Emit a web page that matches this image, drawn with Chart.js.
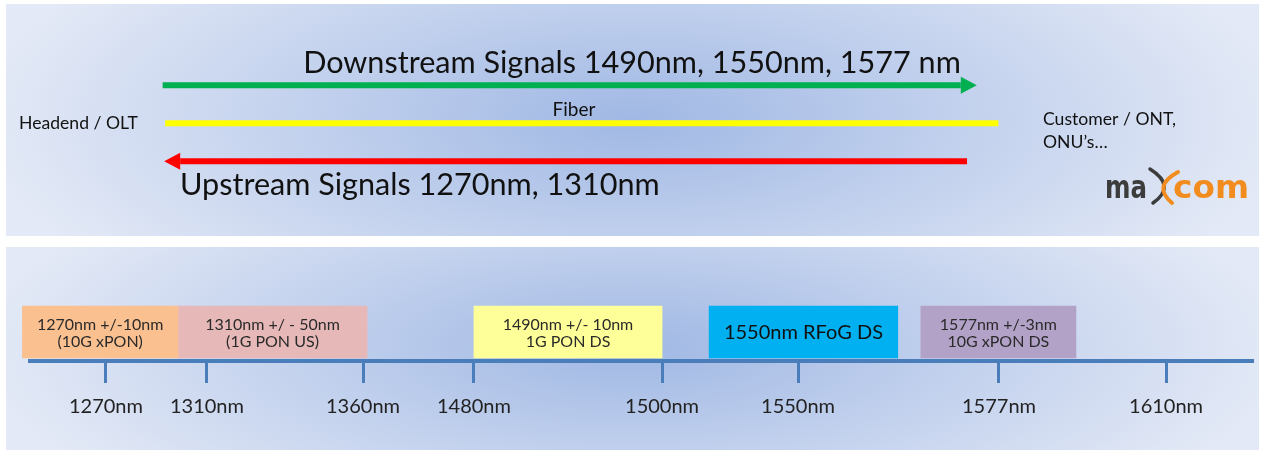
<!DOCTYPE html>
<html>
<head>
<meta charset="utf-8">
<title>PON wavelengths</title>
<script src="https://cdn.jsdelivr.net/npm/chart.js@4.4.1/dist/chart.umd.min.js"></script>
<style>
    body { margin: 0; background: #fff; width: 1261px; height: 451px; overflow: hidden; }
    .panel { position: absolute; left: 6px; width: 1253px; }
    #fiberPanel { top: 4px; height: 232px; }
    #bandPanel { top: 247px; height: 203px; }
</style>
</head>
<body>
<div class="panel" id="fiberPanel"><canvas id="fiberChart"></canvas></div>
<div class="panel" id="bandPanel"><canvas id="bandChart"></canvas></div>
<script>
// --- data ---
// fiber run, in % of the drawing width (schematic)
const downstreamSpan = [12.5, 76.2];
const fiberSpan = [12.7, 79.2];
const upstreamSpan = [76.7, 13.9];

// wavelength axis
const axisWavelengths = [1270, 1310, 1360, 1480, 1500, 1550, 1577, 1610];
const axisMin = 1240;
const axisMax = 1627;

// bands on the axis
const bandNames = ['10G xPON US', '1G PON US', '1G PON DS', 'RFoG DS', '10G xPON DS'];
const bandStarts = [1237, 1298.5, 1480, 1517.3, 1566.5];
const bandEnds = [1298.5, 1364.4, 1500, 1563.4, 1592.2];
const bandLines = [
    ['1270nm +/-10nm', '(10G xPON)'],
    ['1310nm +/ - 50nm', '(1G PON US)'],
    ['1490nm +/- 10nm', '1G PON DS'],
    ['1550nm RFoG DS'],
    ['1577nm +/-3nm', '10G xPON DS']
];
const bandColors = ['#fac090', '#e6b9b8', '#ffff99', '#00b0f0', '#b3a2c7'];

// the axis is not to scale: where each knot sits along it (0..1)
const knotWavelengths = [axisMin, ...axisWavelengths, axisMax];
const knotFractions = [0, 0.0621, 0.1447, 0.2723, 0.3630, 0.5168, 0.6280, 0.7923, 0.9289, 1];

const FONT = 'Lato, Carlito, "Open Sans", sans-serif';
const AXIS_BLUE = '#4a7ebb';

const toFraction = (v) => {
    const w = knotWavelengths, f = knotFractions;
    let i = 0;
    while (i < w.length - 2 && v > w[i + 1]) i++;
    return f[i] + (v - w[i]) * (f[i + 1] - f[i]) / (w[i + 1] - w[i]);
};
const fromFraction = (d) => {
    const w = knotWavelengths, f = knotFractions;
    let i = 0;
    while (i < f.length - 2 && d > f[i + 1]) i++;
    return w[i] + (d - f[i]) * (w[i + 1] - w[i]) / (f[i + 1] - f[i]);
};

class SchematicScale extends Chart.LinearScale {
    getPixelForValue(value) {
        return this.getPixelForDecimal(toFraction(value));
    }
    getValueForPixel(pixel) {
        return fromFraction(this.getDecimalForPixel(pixel));
    }
}
SchematicScale.id = 'schematic';
SchematicScale.defaults = Chart.LinearScale.defaults;
Chart.register(SchematicScale);

// soft blue panel fill, darker in the middle
const panelBackground = {
    id: 'panelBackground',
    beforeDraw(chart) {
        const { ctx, width, height } = chart;
        const s = 2 * height / width;
        ctx.save();
        ctx.translate(width / 2, height / 2);
        ctx.scale(1, s);
        const g = ctx.createRadialGradient(0, 0, 0, 0, 0, width * 0.52);
        g.addColorStop(0, '#a0b8e4');
        g.addColorStop(1, '#e3e9f6');
        ctx.fillStyle = g;
        ctx.fillRect(-width / 2, -height / 2 / s, width, height / s);
        ctx.restore();
    }
};

const arrowHeads = {
    id: 'arrowHeads',
    afterDatasetsDraw(chart) {
        const ctx = chart.ctx;
        chart.data.datasets.forEach((ds, i) => {
            if (!ds.headLength) return;
            const pts = chart.getDatasetMeta(i).data;
            const a = pts[0], b = pts[pts.length - 1];
            const dir = Math.sign(b.x - a.x);
            ctx.save();
            ctx.fillStyle = ds.borderColor;
            ctx.beginPath();
            ctx.moveTo(b.x, b.y - ds.headWidth / 2);
            ctx.lineTo(b.x + dir * ds.headLength, b.y);
            ctx.lineTo(b.x, b.y + ds.headWidth / 2);
            ctx.closePath();
            ctx.fill();
            ctx.restore();
        });
    }
};

const drawSquashed = (ctx, text, x, y, width) => {
    const w = ctx.measureText(text).width;
    ctx.save();
    ctx.translate(x, y);
    ctx.scale(width / w, 1);
    ctx.fillText(text, 0, 0);
    ctx.restore();
};

const fiberLabels = {
    id: 'fiberLabels',
    afterDraw(chart) {
        const ctx = chart.ctx;
        ctx.save();
        ctx.fillStyle = '#111';
        ctx.textBaseline = 'alphabetic';

        ctx.font = '30.6px ' + FONT;
        ctx.textAlign = 'center';
        ctx.fillText('Downstream Signals 1490nm, 1550nm, 1577 nm', 626, 69);
        ctx.textAlign = 'left';
        ctx.fillText('Upstream Signals 1270nm, 1310nm', 174, 191);

        ctx.font = '19px ' + FONT;
        ctx.textAlign = 'center';
        ctx.fillText('Fiber', 568, 112);

        ctx.font = '17.6px ' + FONT;
        ctx.textAlign = 'left';
        ctx.fillText('Headend / OLT', 13, 125);
        ctx.fillText('Customer / ONT,', 1037, 121);
        ctx.fillText('ONU\u2019s\u2026', 1037, 144);

        // maxcom logo
        ctx.font = 'bold 32px "DejaVu Sans", sans-serif';
        ctx.fillStyle = '#3c3c3c';
        drawSquashed(ctx, 'ma', 1099, 194, 42);
        ctx.fillStyle = '#f28c1e';
        drawSquashed(ctx, 'com', 1167, 194, 76);
        ctx.lineCap = 'round';
        ctx.lineWidth = 3.5;
        ctx.strokeStyle = '#3c3c3c';
        ctx.beginPath();
        ctx.moveTo(1144, 165);
        ctx.quadraticCurveTo(1171, 182, 1147, 199);
        ctx.stroke();
        ctx.lineWidth = 4;
        ctx.strokeStyle = '#f28c1e';
        ctx.beginPath();
        ctx.moveTo(1172, 168);
        ctx.quadraticCurveTo(1146, 182, 1166, 199);
        ctx.stroke();
        ctx.restore();
    }
};

const bandLabels = {
    id: 'bandLabels',
    afterDatasetsDraw(chart) {
        const ctx = chart.ctx;
        ctx.save();
        ctx.textAlign = 'center';
        ctx.textBaseline = 'middle';
        chart.data.datasets.forEach((ds, i) => {
            const bar = chart.getDatasetMeta(i).data[0];
            const cx = (bar.x + bar.base) / 2;
            const lines = bandLines[i];
            if (lines.length === 1) {
                ctx.font = '20px ' + FONT;
                ctx.fillStyle = '#111';
                ctx.fillText(lines[0], cx, bar.y + 1);
            } else {
                ctx.font = '16px ' + FONT;
                ctx.fillStyle = '#2a2a2a';
                ctx.fillText(lines[0], cx, bar.y - 7);
                ctx.fillText(lines[1], cx, bar.y + 10);
            }
        });
        ctx.restore();
    }
};

// --- top panel: the fiber with its two directions ---
const arrowLine = (span, row, color, head) => ({
    data: [{ x: span[0], y: row }, { x: span[1], y: row }],
    borderColor: color,
    borderWidth: 6,
    borderCapStyle: 'butt',
    pointRadius: 0,
    headLength: head ? 16 : 0,
    headWidth: 17
});

new Chart(document.getElementById('fiberChart'), {
    type: 'line',
    data: {
        datasets: [
            arrowLine(downstreamSpan, 4, '#00b050', true),
            arrowLine(fiberSpan, 3, '#ffff00', false),
            arrowLine(upstreamSpan, 2, '#ff0000', true)
        ]
    },
    options: {
        responsive: true,
        maintainAspectRatio: false,
        animation: false,
        layout: { padding: 0 },
        plugins: { legend: { display: false }, tooltip: { enabled: false } },
        scales: {
            x: { type: 'linear', min: 0, max: 100, display: false },
            y: { type: 'linear', min: 0.035, max: 6.14, display: false }
        }
    },
    plugins: [panelBackground, arrowHeads, fiberLabels]
});

// --- bottom panel: wavelength plan ---
new Chart(document.getElementById('bandChart'), {
    type: 'bar',
    data: {
        labels: ['PON'],
        datasets: bandNames.map((name, i) => ({
            label: name,
            data: [[bandStarts[i], bandEnds[i]]],
            backgroundColor: bandColors[i],
            borderWidth: 0,
            barThickness: 52,
            grouped: false,
            clip: false
        }))
    },
    options: {
        indexAxis: 'y',
        responsive: true,
        maintainAspectRatio: false,
        animation: false,
        layout: { padding: { left: 24, right: 6, top: 56, bottom: 31 } },
        plugins: { legend: { display: false }, tooltip: { enabled: false } },
        scales: {
            x: {
                type: 'schematic',
                min: axisMin,
                max: axisMax,
                afterBuildTicks: (scale) => {
                    scale.ticks = axisWavelengths.map(v => ({ value: v }));
                },
                border: { display: true, color: AXIS_BLUE, width: 4 },
                grid: {
                    display: true,
                    drawOnChartArea: false,
                    drawTicks: true,
                    tickLength: 22,
                    tickWidth: 3,
                    tickColor: AXIS_BLUE
                },
                ticks: {
                    autoSkip: false,
                    maxRotation: 0,
                    padding: 12,
                    color: '#222',
                    font: { family: FONT, size: 20 },
                    callback: (v) => v + 'nm'
                }
            },
            y: { display: false }
        }
    },
    plugins: [panelBackground, bandLabels]
});
</script>
</body>
</html>
